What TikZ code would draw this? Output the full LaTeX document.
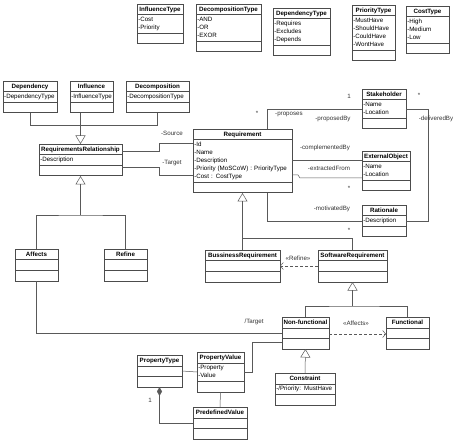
\documentclass[tikz,border=0pt]{standalone}
\usepackage{fontspec}
\setmainfont{Liberation Sans}
\usetikzlibrary{shapes.multipart, arrows.meta}
\hyphenpenalty=10000
\exhyphenpenalty=10000
\begin{document}
\begin{tikzpicture}[x=1pt, y=-1pt,
  cls/.style={rectangle split, rectangle split parts=3, draw=black!70, line width=0.5pt, fill=white,
    anchor=north west, inner xsep=1pt, inner ysep=1pt, align=left,
    font=\fontsize{6.2}{8}\selectfont},
  ln/.style={draw=black!65, line width=0.5pt},
  gen/.style={ln, -{Triangle[open, length=8.5pt, width=10pt]}},
  dep/.style={ln, dash pattern=on 3pt off 2pt, -{Straight Barb[length=3pt, width=7pt]}},
  comp/.style={ln, -{Diamond[length=9pt, width=5pt]}},
  lbl/.style={font=\fontsize{6.2}{8}\selectfont, text=black!80, inner sep=0pt}]
\useasboundingbox (0,0) rectangle (457,443);
% enumerations
\node[cls, text width=43.5pt] (infltype) at (137,4) {\hfill\textbf{InfluenceType}\hfill\strut\nodepart{two}\strut-Cost\\-Priority\strut\nodepart{three}\strut};
\node[cls, text width=62.5pt] (decomptype) at (196,4) {\hfill\textbf{DecompositionType}\hfill\strut\nodepart{two}\strut-AND\\-OR\\-EXOR\strut\nodepart{three}\strut};
\node[cls, text width=54.5pt] (deptype) at (273,8) {\hfill\textbf{DependencyType}\hfill\strut\nodepart{two}\strut-Requires\\-Excludes\\-Depends\strut\nodepart{three}\strut};
\node[cls, text width=40.5pt] (prioritytype) at (352,5) {\hfill\textbf{PriorityType}\hfill\strut\nodepart{two}\strut-MustHave\\-ShouldHave\\-CouldHave\\-WontHave\strut\nodepart{three}\strut};
\node[cls, text width=40.5pt] (costtype) at (406,6) {\hfill\textbf{CostType}\hfill\strut\nodepart{two}\strut-High\\-Medium\\-Low\strut\nodepart{three}\strut};
% relationships
\node[cls, text width=51.5pt] (dependency) at (3,81) {\hfill\textbf{Dependency}\hfill\strut\nodepart{two}\strut-DependencyType\strut\nodepart{three}\strut};
\node[cls, text width=40.5pt] (influence) at (70,81) {\hfill\textbf{Influence}\hfill\strut\nodepart{two}\strut-InfluenceType\strut\nodepart{three}\strut};
\node[cls, text width=60.5pt] (decomposition) at (126,81) {\hfill\textbf{Decomposition}\hfill\strut\nodepart{two}\strut-DecompositionType\strut\nodepart{three}\strut};
\node[cls, text width=80.5pt] (reqrel) at (39,144) {\hfill\textbf{RequirementsRelationship}\hfill\strut\nodepart{two}\strut-Description\strut\nodepart{three}\strut};
\node[cls, text width=40.5pt] (affects) at (15,249) {\hfill\textbf{Affects}\hfill\strut\nodepart{two}\strut\nodepart{three}\strut};
\node[cls, text width=40.5pt] (refine) at (104,249) {\hfill\textbf{Refine}\hfill\strut\nodepart{two}\strut\nodepart{three}\strut};
% requirements
\node[cls, text width=96.5pt] (req) at (193,129) {\hfill\textbf{Requirement}\hfill\strut\nodepart{two}\strut-Id\\-Name\\-Description\\-Priority (MoSCoW) : PriorityType\\-Cost : CostType\strut\nodepart{three}\strut};
\node[cls, text width=41.5pt] (stakeholder) at (362,89) {\hfill\textbf{Stakeholder}\hfill\strut\nodepart{two}\strut-Name\\-Location\strut\nodepart{three}\strut};
\node[cls, text width=45.5pt] (extobj) at (362,151) {\hfill\textbf{ExternalObject}\hfill\strut\nodepart{two}\strut-Name\\-Location\strut\nodepart{three}\strut};
\node[cls, text width=41.5pt] (rationale) at (362,205) {\hfill\textbf{Rationale}\hfill\strut\nodepart{two}\strut-Description\strut\nodepart{three}\strut};
\node[cls, text width=72.5pt] (busreq) at (205,250) {\hfill\textbf{BussinessRequirement}\hfill\strut\nodepart{two}\strut\nodepart{three}\strut};
\node[cls, text width=66.5pt] (swreq) at (318,250) {\hfill\textbf{SoftwareRequirement}\hfill\strut\nodepart{two}\strut\nodepart{three}\strut};
\node[cls, text width=44.5pt] (nonfunc) at (282,317) {\hfill\textbf{Non-functional}\hfill\strut\nodepart{two}\strut\nodepart{three}\strut};
\node[cls, text width=40.5pt] (functional) at (386,317) {\hfill\textbf{Functional}\hfill\strut\nodepart{two}\strut\nodepart{three}\strut};
\node[cls, text width=57.5pt] (constraint) at (275,373) {\hfill\textbf{Constraint}\hfill\strut\nodepart{two}\strut-/Priority: MustHave\strut\nodepart{three}\strut};
% properties
\node[cls, text width=44.5pt] (propvalue) at (197,352) {\hfill\textbf{PropertyValue}\hfill\strut\nodepart{two}\strut-Property\\-Value\strut\nodepart{three}\strut};
\node[cls, text width=42.5pt] (proptype) at (137,355) {\hfill\textbf{PropertyType}\hfill\strut\nodepart{two}\strut\nodepart{three}\strut};
\node[cls, text width=51.5pt] (predefvalue) at (193,407) {\hfill\textbf{PredefinedValue}\hfill\strut\nodepart{two}\strut\nodepart{three}\strut};
% generalizations
\draw[ln] (dependency.south) -- ++(0,12) -| (decomposition.south);
\draw[gen] (influence.south -| reqrel.north) -- (reqrel.north);
\draw[gen] (reqrel.south |- 0,215) -- (reqrel.south);
\draw[ln] (affects.north) |- (reqrel.south |- 0,215) -| (refine.north);
\draw[gen] (req.south |- 0,238) -- (req.south);
\draw[ln] (busreq.north) |- (req.south |- 0,238) -| (swreq.north);
\draw[gen] (swreq.south |- 0,306) -- (swreq.south);
\draw[ln] (nonfunc.north) |- (swreq.south |- 0,306) -| (functional.north);
\draw[gen] (constraint.north) -- (nonfunc.south);
% associations
\draw[ln] (reqrel.east |- 0,151) -| (159,143) -- (req.west |- 0,143);
\draw[ln] (reqrel.east |- 0,167) -| (159,175) -- (req.west |- 0,175);
\draw[ln] (req.north -| 267,0) |- (stakeholder.west);
\draw[ln] (req.south -| 267,0) |- (rationale.west);
\draw[ln] (stakeholder.east) -- ++(22,0) |- (rationale.east);
\draw[ln] (req.east |- 0,160) -- (extobj.west |- 0,160);
\draw[ln] (req.east |- 0,175) -- (298,175) -- (300,178) -- (extobj.west |- 0,178);
\draw[ln] (affects.south) |- (nonfunc.west |- 0,333);
\draw[ln] (propvalue.east) -| (252,342) -- (nonfunc.west |- 0,342);
\draw[ln] (proptype.east) -- (propvalue.west);
\draw[ln] (propvalue.south) -- (predefvalue.north);
\draw[comp] (predefvalue.west) -| (proptype.south);
% dependencies
\draw[dep] (swreq.west |- 0,266) -- (busreq.east |- 0,266);
\draw[dep] (nonfunc.east |- 0,334) -- (functional.west |- 0,334);
% labels
\node[lbl] (lsource) at (172,133) {-Source};
\node[lbl] (ltarget) at (172,163) {-Target};
\node[lbl] (lmanyprop) at (257,113) {*};
\node[lbl] (lproposes) at (289,114) {-proposes};
\node[lbl] (lproposedby) at (333,119) {-proposedBy};
\node[lbl] (lonestake) at (349,96) {1};
\node[lbl] (lmanydeliv) at (419,95) {*};
\node[lbl] (ldeliveredby) at (436,119) {-deliveredBy};
\node[lbl] (lcomplemented) at (325,148) {-complementedBy};
\node[lbl] (lextracted) at (329,168) {-extractedFrom};
\node[lbl] (lmanyext) at (349,188) {*};
\node[lbl] (lmotivated) at (332,209) {-motivatedBy};
\node[lbl] (lmanyrat) at (349,230) {*};
\node[lbl] (lrefine) at (298,258) {<<Refine>>};
\node[lbl] (laffects) at (356,323) {<<Affects>>};
\node[lbl] (lnftarget) at (254,322) {/Target};
\node[lbl] (loneprop) at (150,400) {1};
\end{tikzpicture}
\end{document}
